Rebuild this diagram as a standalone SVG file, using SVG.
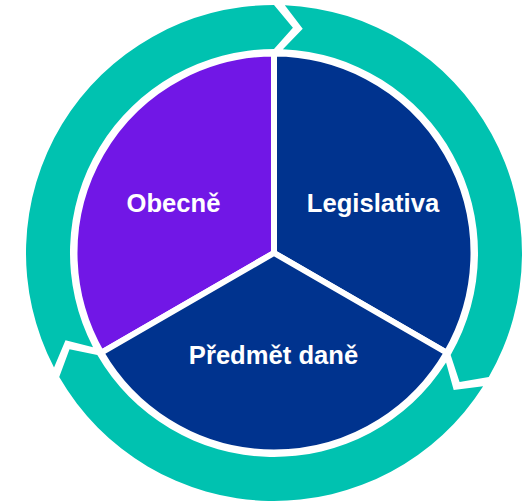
<svg xmlns="http://www.w3.org/2000/svg" width="531" height="503" viewBox="0 0 531 503">
<style>
.arrow{fill:#00C2B0;}
.sec{stroke:#FFFFFF;stroke-width:6;}
.lbl{font-family:"Liberation Sans",Arial,sans-serif;font-weight:bold;font-size:25.6px;fill:#FFFFFF;text-anchor:middle;}
</style>
<rect width="531" height="503" fill="#FFFFFF"/>
<g id="connectors">
<path class="arrow" d="M 284.82 5.24 A 248 248 0 0 1 488.77 377 L 459.56 382.01 L 450.67 355 A 204 204 0 0 0 282.90 49.19 L 302.72 28.83 Z"/>
<path class="arrow" d="M 483.16 386.25 A 248 248 0 0 1 59.23 377 L 69.51 349.23 L 97.33 355 A 204 204 0 0 0 446.05 362.61 L 453.70 390.06 Z"/>
<path class="arrow" d="M 54.02 367.51 A 248 248 0 0 1 274 5 L 292.91 27.79 L 274 49 A 204 204 0 0 0 93.05 347.20 L 65.51 340.22 Z"/>
</g>
<g id="node-obecne">
<path class="sec" fill="#7117E6" d="M 274 253 L 101.23 352.75 A 199.5 199.5 0 0 1 274 53.5 Z"/>
<text class="lbl" x="173.5" y="211.5">Obecně</text>
</g>
<g id="node-legislativa">
<path class="sec" fill="#00338E" d="M 274 253 L 274 53.5 A 199.5 199.5 0 0 1 446.77 352.75 Z"/>
<text class="lbl" x="373" y="211.5">Legislativa</text>
</g>
<g id="node-predmet">
<path class="sec" fill="#00338E" d="M 274 253 L 446.77 352.75 A 199.5 199.5 0 0 1 101.23 352.75 Z"/>
<text class="lbl" x="273.5" y="363.5">Předmět daně</text>
</g>
</svg>
